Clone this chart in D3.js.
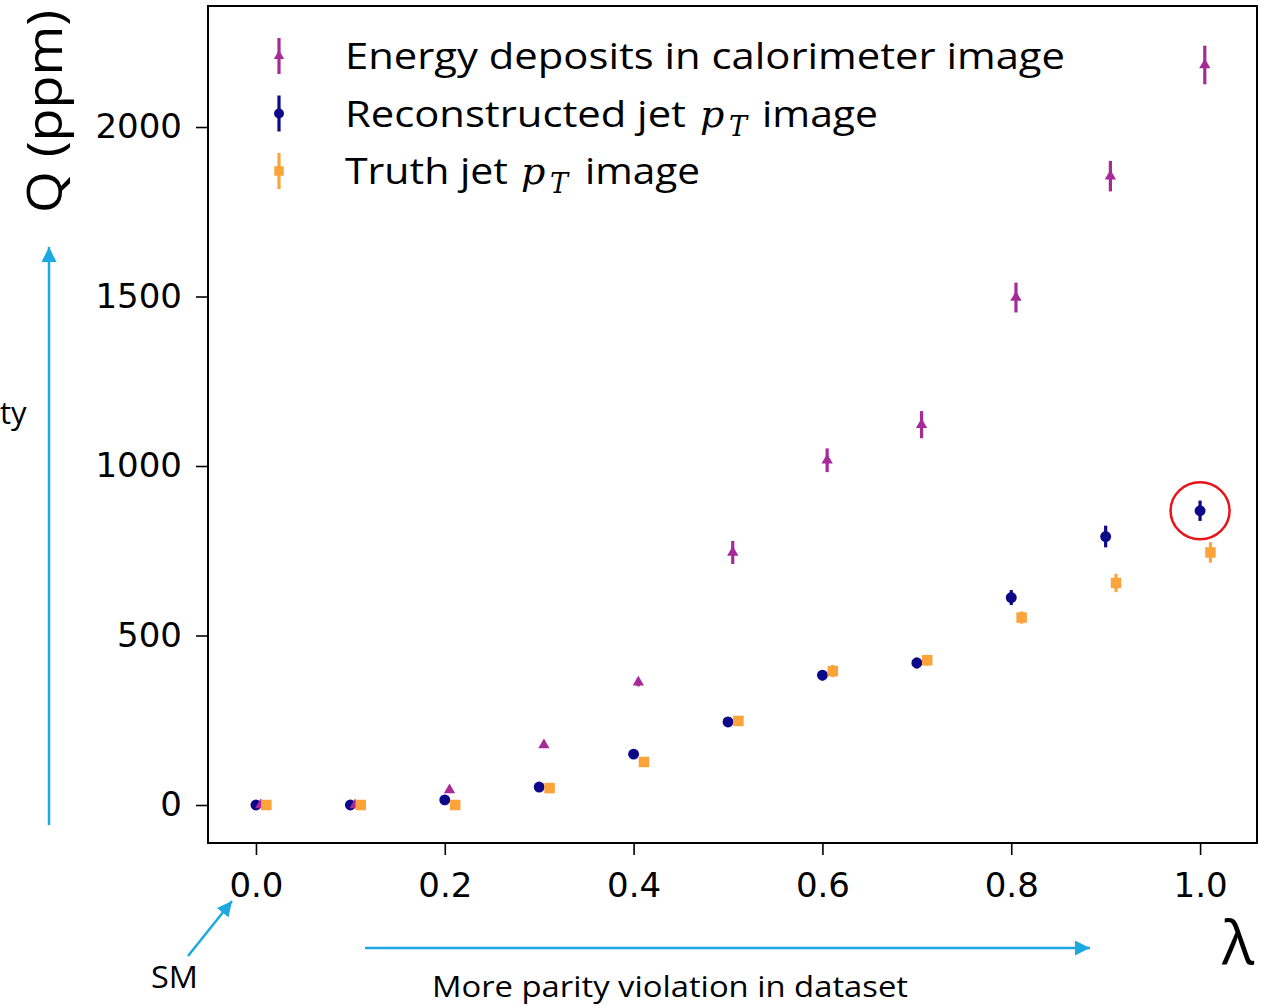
<!DOCTYPE html>
<html>
<head>
<meta charset="utf-8">
<script src="https://cdn.jsdelivr.net/npm/d3@7"></script>
<style>
  body { margin: 0; background: #fff; }
  svg { display: block; }
</style>
</head>
<body>
<div id="chart"></div>
<script>
// lambda values and Q (ppm)
const lambdas = [0.0, 0.1, 0.2, 0.3, 0.4, 0.5, 0.6, 0.7, 0.8, 0.9, 1.0];
const energyQ = [0, 0, 44, 177, 362, 745, 1017, 1122, 1497, 1855, 2183];
const energyErr = [3, 3, 6, 8, 12, 34, 35, 40, 44, 45, 57];
const recoQ = [0, 0, 15, 53, 150, 245, 383, 419, 612, 792, 868];
const recoErr = [2, 2, 4, 5, 6, 8, 15, 16, 22, 32, 30];
const truthQ = [0, 0, 0, 50, 127, 248, 395, 427, 553, 655, 745];
const truthErr = [2, 2, 3, 5, 6, 8, 18, 16, 18, 27, 30];
const xTicks = [0.0, 0.2, 0.4, 0.6, 0.8, 1.0];
const yTicks = [0, 500, 1000, 1500, 2000];

const svg = d3.select("#chart").append("svg")
  .attr("width", 1261)
  .attr("height", 1006);

const frame = { left: 208, right: 1257, top: 6, bottom: 843 };

const x = d3.scaleLinear().domain([-0.0508, 1.0603]).range([frame.left, frame.right]);
const y = d3.scaleLinear().domain([-112.1, 2357]).range([frame.bottom, frame.top]);

const series = [
  { name: "reco", q: recoQ, err: recoErr, off: 0, color: "#0d0887", shape: "circle" },
  { name: "energy", q: energyQ, err: energyErr, off: 0.005, color: "#a62a98", shape: "triangle" },
  { name: "truth", q: truthQ, err: truthErr, off: 0.011, color: "#fca33a", shape: "square" }
];

function marker(g, shape, color, s) {
  if (shape === "circle") {
    g.append("circle").attr("r", s * 0.52).attr("fill", color);
  } else if (shape === "square") {
    g.append("rect").attr("x", -s * 0.5).attr("y", -s * 0.5)
      .attr("width", s).attr("height", s).attr("fill", color);
  } else {
    g.append("path").attr("d", d3.symbol(d3.symbolTriangle, s * s * 0.5)()).attr("fill", color);
  }
}

// points with error bars
series.forEach(s => {
  const pts = svg.append("g").selectAll("g")
    .data(lambdas.map((l, i) => ({ l: l + s.off, q: s.q[i], e: s.err[i] })))
    .join("g")
    .attr("transform", d => `translate(${x(d.l)},${y(d.q)})`);
  pts.append("line")
    .attr("y1", d => y(d.q + d.e) - y(d.q))
    .attr("y2", d => y(d.q - d.e) - y(d.q))
    .attr("stroke", s.color)
    .attr("stroke-width", 3.2);
  pts.each(function () { marker(d3.select(this), s.shape, s.color, 10.5); });
});

// axes
const xAxis = svg.append("g")
  .attr("transform", `translate(0,${frame.bottom})`)
  .call(d3.axisBottom(x).tickValues(xTicks).tickFormat(d3.format(".1f")).tickSize(12).tickPadding(18));
const yAxis = svg.append("g")
  .attr("transform", `translate(${frame.left},0)`)
  .call(d3.axisLeft(y).tickValues(yTicks).tickFormat(d3.format("d")).tickSize(12).tickPadding(14));

[xAxis, yAxis].forEach(a => {
  a.select(".domain").remove();
  a.selectAll(".tick line").attr("stroke", "#000").attr("stroke-width", 1.6);
  a.selectAll(".tick text")
    .attr("fill", "#000")
    .style("font-family", "DejaVu Sans")
    .style("font-size", "34px");
});

svg.append("rect")
  .attr("x", frame.left).attr("y", frame.top)
  .attr("width", frame.right - frame.left).attr("height", frame.bottom - frame.top)
  .attr("fill", "none").attr("stroke", "#000").attr("stroke-width", 2);

// legend: each piece placed at the x it has in the picture
const legendRows = [
  { shape: "triangle", color: "#a62a98",
    parts: [{ t: "Energy deposits in calorimeter image", x: 345, w: 720 }] },
  { shape: "circle", color: "#0d0887",
    parts: [{ t: "Reconstructed jet", x: 345, w: 341 }, { t: "p", x: 700, math: true },
            { t: "T", x: 729, math: true, sub: true }, { t: "image", x: 762, w: 116 }] },
  { shape: "square", color: "#fca33a",
    parts: [{ t: "Truth jet", x: 345, w: 163 }, { t: "p", x: 521, math: true },
            { t: "T", x: 550, math: true, sub: true }, { t: "image", x: 585, w: 115 }] }
];
legendRows.forEach((r, i) => {
  const cy = 56 + i * 57.5;
  const g = svg.append("g").attr("transform", `translate(279,${cy})`);
  g.append("line").attr("y1", -18).attr("y2", 18)
    .attr("stroke", r.color).attr("stroke-width", 3.2);
  marker(g, r.shape, r.color, 9.5);

  r.parts.forEach(p => {
    const t = svg.append("text")
      .attr("x", p.x).attr("y", cy + 13 + (p.sub ? 9 : 0))
      .attr("fill", "#000")
      .text(p.t);
    if (p.math) {
      t.style("font-family", "DejaVu Serif").style("font-style", "italic")
        .style("font-size", p.sub ? "27px" : "38px");
    } else {
      t.style("font-family", "Open Sans").style("font-size", "37px")
        .attr("textLength", p.w).attr("lengthAdjust", "spacingAndGlyphs");
    }
  });
});

// axis titles
svg.append("text")
  .attr("transform", "translate(62,213) rotate(-90)")
  .attr("textLength", 203).attr("lengthAdjust", "spacingAndGlyphs")
  .style("font-family", "Open Sans").style("font-size", "50px")
  .text("Q (ppm)");

svg.append("text")
  .attr("x", 1238).attr("y", 964)
  .attr("text-anchor", "middle")
  .style("font-family", "Open Sans").style("font-size", "60px")
  .text("λ");

// annotations
const cyan = "#1ca9e1";
const defs = svg.append("defs");
defs.append("marker")
  .attr("id", "head")
  .attr("viewBox", "0 0 10 10")
  .attr("refX", 10).attr("refY", 5)
  .attr("markerWidth", 6).attr("markerHeight", 6)
  .attr("markerUnits", "strokeWidth")
  .attr("orient", "auto")
  .append("path").attr("d", "M0,0 L10,5 L0,10 Z").attr("fill", cyan);

function arrow(x1, y1, x2, y2) {
  svg.append("line")
    .attr("x1", x1).attr("y1", y1).attr("x2", x2).attr("y2", y2)
    .attr("stroke", cyan).attr("stroke-width", 2.5)
    .attr("marker-end", "url(#head)");
}
arrow(49, 825, 49, 247);
arrow(365, 948, 1090, 948);
arrow(188, 956, 232, 901);

svg.append("text").attr("x", 151).attr("y", 988)
  .style("font-family", "Open Sans").style("font-size", "31px")
  .attr("textLength", 47).attr("lengthAdjust", "spacingAndGlyphs")
  .text("SM");

svg.append("text").attr("x", 432).attr("y", 997)
  .style("font-family", "Open Sans").style("font-size", "30px")
  .attr("textLength", 476).attr("lengthAdjust", "spacingAndGlyphs")
  .text("More parity violation in dataset");

svg.append("text").attr("x", 0).attr("y", 424)
  .style("font-family", "Open Sans").style("font-size", "31px")
  .text("ty");

svg.append("ellipse")
  .attr("cx", x(1.0)).attr("cy", y(recoQ[10]))
  .attr("rx", 29.5).attr("ry", 28.5)
  .attr("fill", "none").attr("stroke", "#e8141b").attr("stroke-width", 2.5);
</script>
</body>
</html>
